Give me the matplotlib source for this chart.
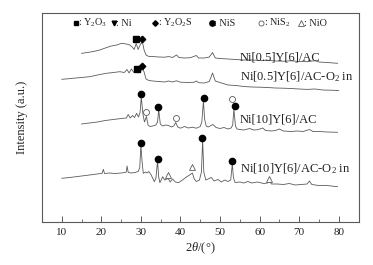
import matplotlib
matplotlib.use("Agg")
import matplotlib.pyplot as plt

plt.rcParams['font.family'] = ['Liberation Serif', 'DejaVu Serif']
plt.rcParams['mathtext.fontset'] = 'custom'
plt.rcParams['mathtext.rm'] = 'Liberation Serif'
plt.rcParams['mathtext.it'] = 'Liberation Serif:italic'

# ---------------- data (2theta, relative intensity with vertical offsets) -------------
t1 = [15.0, 16.5, 18.0, 19.6, 21.0, 22.5, 23.9, 25.1, 26.3, 27.2, 27.8, 28.3, 28.8, 29.3, 29.9,
      30.4, 30.8, 31.3, 32.0, 33.0, 34.5, 36.0, 37.0, 38.0, 39.0, 39.6, 41.0, 42.5, 44.0, 44.6,
      46.0, 47.3, 48.1, 48.8, 50.0, 52.0, 54.0, 56.0, 58.0, 60.0, 62.0, 64.0, 66.0, 68.0, 70.0,
      72.0, 74.0, 75.0, 77.0, 79.7]
i1 = [168.7, 169.5, 170.5, 172, 174, 176, 177, 178.7, 178, 177, 175, 172.5, 178.5, 172.5, 178,
      179.5, 172, 167, 165.5, 165.5, 165, 164.8, 165.5, 164.5, 167, 164.5, 164, 164.3, 166.5, 164,
      164, 165, 169.5, 164, 163.5, 163, 162.5, 162, 162, 161.5, 161.8, 161, 160.8, 161.2, 160.5,
      160.3, 161.3, 160, 159.5, 158.7]

t2 = [10.0, 11.5, 13.0, 15.0, 17.1, 19.0, 21.3, 23.0, 24.7, 25.8, 26.5, 27.0, 27.6, 28.2, 28.9,
      29.5, 30.0, 30.4, 30.8, 31.3, 32.0, 33.0, 34.5, 36.0, 37.0, 38.0, 39.0, 40.0, 42.0, 43.5,
      44.0, 44.6, 46.0, 47.3, 48.1, 48.8, 50.0, 52.0, 54.0, 56.0, 58.0, 60.0, 62.0, 64.0, 66.0,
      68.0, 70.0, 72.0, 74.0, 76.0, 78.0, 80.0]
i2 = [142.7, 143.2, 143.8, 144.5, 145.3, 147, 148.7, 149.5, 150.3, 149.5, 152.5, 149, 153, 149.5, 150.5,
      149.5, 151, 154, 150, 143, 141.5, 141, 140.5, 140, 141, 140, 141.2, 139.8, 139.5, 139.8,
      141, 139.3, 139, 140.5, 149, 141, 139.5, 137, 136.5, 135.5, 135, 134.8, 134.5, 134, 133.8,
      133.5, 133, 132.6, 133, 132, 131.8, 131.5]

t3 = [15.0, 17.0, 19.0, 21.0, 23.0, 25.5, 26.3, 26.8, 27.3, 27.9, 28.4, 28.9, 29.4, 29.8, 30.1,
      30.5, 30.9, 31.4, 31.8, 32.3, 33.0, 33.8, 34.2, 34.5, 34.9, 35.5, 36.3, 37.0, 37.7, 38.3,
      38.8, 39.3, 40.0, 41.0, 42.0, 43.0, 44.0, 45.0, 45.4, 45.8, 46.1, 46.5, 47.0, 48.2, 49.0,
      50.0, 51.0, 52.0, 52.8, 53.2, 53.5, 53.9, 54.3, 55.0, 56.0, 57.5, 58.5, 59.5, 60.8, 61.5,
      63.0, 64.0, 65.0, 66.0, 68.0, 69.5, 71.0, 72.6, 73.5, 75.0, 77.0, 79.7]
i3 = [98, 99, 100, 101.5, 102.5, 103.7, 104, 107.5, 104, 106.5, 104.5, 108.7, 105, 110, 125,
      108, 100, 105.5, 97, 95.5, 96, 97, 100, 112, 98, 96, 97, 96.5, 95, 96,
      99.5, 95, 93.8, 95.5, 94, 94.8, 93.8, 95.5, 100, 121, 103, 96, 95, 97.5, 94.5,
      93.5, 94.5, 93, 94, 97, 113, 96, 93, 92.5, 92, 93.5, 92, 92.3, 94, 91.5,
      91, 91.5, 93, 91, 90.5, 91, 90.5, 92.5, 90.5, 90.5, 90, 89.7]

t4 = [10.0, 12.0, 14.0, 16.0, 18.0, 20.2, 20.5, 20.8, 22.0, 23.5, 25.0, 26.0, 26.3, 26.5, 26.8,
      27.5, 28.5, 29.3, 29.7, 30.0, 30.3, 30.6, 31.2, 31.6, 32.0, 32.6, 33.4, 33.8, 34.2, 34.5,
      34.8, 35.5, 36.0, 36.9, 37.4, 38.0, 38.7, 39.5, 40.5, 41.5, 42.3, 43.0, 43.5, 44.0, 44.8,
      45.3, 45.6, 45.9, 46.4, 47.0, 47.8, 48.5, 49.5, 50.3, 51.2, 52.0, 52.7, 53.1, 53.4, 53.8,
      55.0, 56.0, 57.0, 58.0, 59.5, 61.0, 62.0, 62.5, 63.0, 64.5, 66.0, 67.5, 69.0, 70.5, 72.0,
      72.6, 73.2, 75.0, 77.0, 79.7]
i4 = [43.7, 44.5, 45.5, 46.5, 47.5, 48.7, 52.7, 48.5, 49, 48.5, 49, 49.5, 50, 56, 49.5,
      49, 49.5, 50.5, 54, 77, 60, 48.7, 50, 49, 50.5, 47, 40.3, 44, 61, 45,
      39.3, 45.3, 42, 43.5, 40, 43, 40, 39.3, 42, 45, 47, 49, 43, 40.5, 42,
      50, 82, 50, 42, 43, 44.5, 41, 42.5, 40, 42, 40.5, 42, 58, 44, 39.5,
      40, 39, 40.5, 39, 40, 38.5, 39, 41, 38, 38, 37.5, 38.5, 37, 37.5, 38,
      41, 37.5, 36.5, 36.5, 35.3]

series_t = [t1, t2, t3, t4]
series_i = [i1, i2, i3, i4]
labels = ['Ni[0.5]Y[6]/AC', r'Ni[0.5]Y[6]/AC-O$_\mathregular{2}$ in',
          'Ni[10]Y[6]/AC', r'Ni[10]Y[6]/AC-O$_\mathregular{2}$ in']
label_y = [165, 145, 103, 53.5]

# phase markers: (phase, 2theta, intensity)
phase_marks = [
    ('Y2O3', 28.65, 183), ('Y2O2S', 30.4, 183),
    ('Y2O3', 29.0, 153.5), ('Y2O2S', 30.3, 156.5),
    ('NiS', 30.15, 128), ('NiS2', 31.4, 110.3), ('NiS', 34.4, 114.7), ('NiS2', 38.8, 104),
    ('NiS', 45.9, 123.7), ('NiS2', 53.1, 123), ('NiS', 53.9, 116.5),
    ('NiS', 30.0, 79.5), ('NiS', 34.3, 63), ('NiO', 36.9, 47.5), ('NiO', 43.0, 55.5),
    ('NiS', 45.55, 84.5), ('NiS', 53.1, 61), ('NiO', 62.5, 42.8),
]

legend_phases = ['Y2O3', 'Ni', 'Y2O2S', 'NiS', 'NiS2', 'NiO']
legend_texts = [r': Y$_\mathregular{2}$O$_\mathregular{3}$', ': Ni',
                r': Y$_\mathregular{2}$O$_\mathregular{2}$S', ': NiS',
                r': NiS$_\mathregular{2}$', ': NiO']

xticks = [10, 20, 30, 40, 50, 60, 70, 80]

# ---------------- styles -------------
GRAY = '#5a5a5a'
style = {
    'Y2O3': dict(marker='s', ms=4.2, mfc='black', mec='black'),
    'Ni': dict(marker='v', ms=4.0, mfc='black', mec='black'),
    'Y2O2S': dict(marker='D', ms=3.3, mfc='black', mec='black'),
    'NiS': dict(marker='o', ms=4.5, mfc='black', mec='black'),
    'NiS2': dict(marker='o', ms=4.3, mfc='white', mec=GRAY, mew=0.6),
    'NiO': dict(marker='^', ms=4.8, mfc='white', mec=GRAY, mew=0.6),
}

W, H = 373, 265
fig = plt.figure(figsize=(W / 100, H / 100), dpi=100)
L, R, T, B = 42, 358.5, 13.3, 222
ax = fig.add_axes([L / W, 1 - B / H, (R - L) / W, (B - T) / H])
ax.set_xlim(5, 85)
ax.set_ylim(0, B - T)

def px(x, y):
    return 5 + (x - L) / (R - L) * 80, B - y

for t, i in zip(series_t, series_i):
    ax.plot(t, i, color=GRAY, lw=0.6)

for ph, t, i in phase_marks:
    ax.plot([t], [i], ls='none', zorder=5, **style[ph])

for lab, ly in zip(labels, label_y):
    x0, _ = px(240, 0)
    ax.text(x0, ly, lab, fontsize=9, ha='left', va='center', color='#222222')

# legend row
mark_px = [76, 113.5, 155, 212, 261, 301]
for ph, txt, mx in zip(legend_phases, legend_texts, mark_px):
    x, y = px(mx, 23)
    ax.plot([x], [y], ls='none', **{**style[ph], 'ms': style[ph]['ms'] * 0.85})
    xt, _ = px(mx + 2.5, 0)
    ax.text(xt, y, txt, fontsize=7.3, ha='left', va='center', color='#222222')

ax.set_xticks(xticks)
ax.set_xticks(range(15, 85, 10), minor=True)
ax.set_yticks([])
ax.tick_params(axis='x', which='major', direction='in', length=4.5, width=0.7,
               labelsize=8, pad=4, colors=GRAY, labelcolor='#222222', top=False)
ax.tick_params(axis='x', which='minor', direction='in', length=2.5, width=0.6,
               colors=GRAY, top=False)
for s in ax.spines.values():
    s.set_color(GRAY)
    s.set_linewidth(0.8)

fig.text(200 / W, 1 - 248 / H, r'2$\theta$/(°)', fontsize=9, ha='center', va='center', color='#222222')
fig.text(22 / W, 1 - 117.5 / H, 'Intensity (a.u.)', fontsize=9, rotation=90,
         ha='center', va='center', color='#222222')

fig.savefig('out.png', dpi=100)
